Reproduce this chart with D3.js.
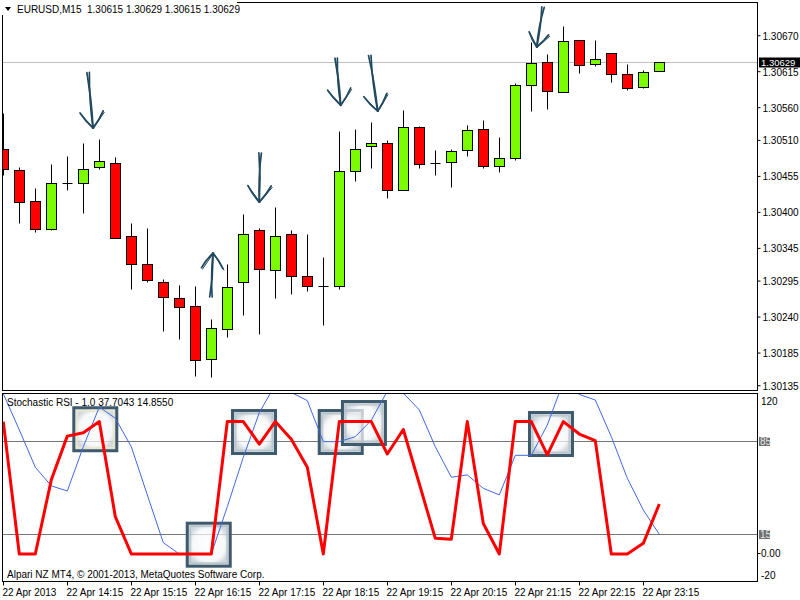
<!DOCTYPE html>
<html><head><meta charset="utf-8">
<script src="https://cdn.jsdelivr.net/npm/d3@7"></script>
<style>
body{margin:0;background:#fff}
svg{display:block}
text{font-family:"Liberation Sans",Arial,sans-serif;font-size:10px;fill:#000;white-space:pre}
</style>
</head><body>
<svg id="c" width="800" height="600"></svg>
<script>
// ---------------- data ----------------
const symbol = "EURUSD,M15";
const times = ["13:15","13:30","13:45","14:00","14:15","14:30","14:45","15:00","15:15","15:30","15:45","16:00","16:15","16:30","16:45","17:00","17:15","17:30","17:45","18:00","18:15","18:30","18:45","19:00","19:15","19:30","19:45","20:00","20:15","20:30","20:45","21:00","21:15","21:30","21:45","22:00","22:15","22:30","22:45","23:00","23:15","23:30"];
const open  = [1.30495,1.30463,1.30416,1.30373,1.30443,1.30443,1.30468,1.30474,1.30362,1.30320,1.30292,1.30268,1.30255,1.30174,1.30220,1.30292,1.30371,1.30310,1.30365,1.30301,1.30286,1.30286,1.30462,1.30500,1.30505,1.30433,1.30529,1.30474,1.30475,1.30494,1.30526,1.30469,1.30482,1.30593,1.30628,1.30582,1.30662,1.30625,1.30642,1.30610,1.30590,1.30615];
const high  = [1.30551,1.30468,1.30436,1.30473,1.30485,1.30505,1.30510,1.30483,1.30382,1.30375,1.30297,1.30288,1.30286,1.30235,1.30319,1.30396,1.30375,1.30407,1.30371,1.30366,1.30330,1.30523,1.30526,1.30537,1.30509,1.30555,1.30531,1.30494,1.30496,1.30532,1.30540,1.30513,1.30596,1.30659,1.30641,1.30684,1.30662,1.30662,1.30642,1.30626,1.30616,1.30629];
const low   = [1.30456,1.30382,1.30368,1.30371,1.30432,1.30397,1.30465,1.30359,1.30281,1.30292,1.30217,1.30205,1.30148,1.30147,1.30208,1.30242,1.30212,1.30267,1.30273,1.30278,1.30227,1.30282,1.30446,1.30467,1.30421,1.30433,1.30467,1.30456,1.30437,1.30484,1.30467,1.30460,1.30479,1.30553,1.30557,1.30582,1.30612,1.30622,1.30597,1.30585,1.30588,1.30615];
const close = [1.30465,1.30414,1.30373,1.30443,1.30443,1.30465,1.30477,1.30359,1.30320,1.30295,1.30269,1.30254,1.30173,1.30221,1.30285,1.30365,1.30312,1.30362,1.30301,1.30286,1.30286,1.30462,1.30496,1.30505,1.30433,1.30529,1.30472,1.30474,1.30492,1.30524,1.30469,1.30482,1.30593,1.30627,1.30584,1.30660,1.30624,1.30633,1.30610,1.30588,1.30613,1.30629];
const stochK = [100,0,0,56,89,91.6,100,28.2,0,0,0,0,0,0,100,100,83,100,86.6,65.5,0,100,100,100,75.5,94,53,11.8,11.1,100,23,0,100,100,74.8,100,90.6,85.6,0,0,8,37.7043];
const stochD = [121,93.7,65.5,51.4,47.6,81,111,102.5,81,44.6,8.5,0,0,0,35.7,73,106.7,128,122,115.8,84.8,84.8,88.6,101,123,121.5,108.8,81,58,59.7,49.6,44.6,74.5,74.5,97.4,130,120.5,116.3,88.6,57.2,33.2,14.855];
const priceTicks = [1.30670,1.30615,1.30560,1.30510,1.30455,1.30400,1.30345,1.30295,1.30240,1.30185,1.30135];
const timeTicks = ["13:15","14:15","15:15","16:15","17:15","18:15","19:15","20:15","21:15","22:15","23:15"];
const timeTickLabels = ["22 Apr 2013","22 Apr 14:15","22 Apr 15:15","22 Apr 16:15","22 Apr 17:15","22 Apr 18:15","22 Apr 19:15","22 Apr 20:15","22 Apr 21:15","22 Apr 22:15","22 Apr 23:15"];
const levels = [85, 15];
const indLabels = [120, 0, -20];
// hand-drawn annotations (arrows on price chart, squares on indicator)
const arrowTailIdx = [5.30, 12.98, 16.05, 20.80, 22.90, 33.73];
const arrowTailPx  = [1.30613, 1.30270, 1.30490, 1.30635, 1.30639, 1.30713];
const arrowTipIdx  = [5.61, 13.10, 16.00, 21.09, 23.40, 33.34];
const arrowTipPx   = [1.30528, 1.30337, 1.30415, 1.30563, 1.30554, 1.30652];
const boxIdx = [5.75, 15.67, 12.84, 21.09, 22.54, 34.23];
const boxVal = [94.2, 92.1, 7.0, 92.1, 98.9, 90.6];

// ---------------- layout ----------------
const L = 2.5, R = 757.5, mainTop = 2.5, mainBot = 390.5, indTop = 393.5, indBot = 581.5;
const svg = d3.select("#c");
const idx = t => times.indexOf(t);
const x = d3.scaleLinear().domain([0, times.length - 1]).range([3.3, 3.3 + 16 * (times.length - 1)]);
const y = d3.scaleLinear().domain([1.30127, 1.30720]).range([mainBot, mainTop]);
const yi = d3.scaleLinear().domain([-20.8, 121.2]).range([indBot, indTop]);
const px = v => Math.floor(v) + 0.5;

const defs = svg.append("defs");
defs.append("clipPath").attr("id","cm").append("rect").attr("x",L).attr("y",mainTop).attr("width",R-L).attr("height",mainBot-mainTop);
defs.append("clipPath").attr("id","ci").append("rect").attr("x",L).attr("y",indTop).attr("width",R-L).attr("height",indBot-indTop);
const rg = defs.append("radialGradient").attr("id","glass");
rg.append("stop").attr("offset","0%").attr("stop-color","#ffffff").attr("stop-opacity",0.75);
rg.append("stop").attr("offset","75%").attr("stop-color","#f4f6f7").attr("stop-opacity",0.7);
rg.append("stop").attr("offset","100%").attr("stop-color","#c9d2d8").attr("stop-opacity",0.85);

// ---------------- main panel ----------------
const gm = svg.append("g").attr("clip-path","url(#cm)");
const last = times.length - 1;
gm.append("line").attr("x1",L).attr("x2",R).attr("y1",px(y(close[last]))).attr("y2",px(y(close[last])))
  .attr("stroke","#c0c0c0");

const candles = gm.append("g");
times.forEach((t, i) => {
  const cx = px(x(i));
  candles.append("line").attr("x1",cx).attr("x2",cx).attr("y1",px(y(high[i]))).attr("y2",px(y(low[i])))
    .attr("stroke","#000");
  const top = px(y(Math.max(open[i], close[i]))), bot = px(y(Math.min(open[i], close[i])));
  if (bot - top < 1) {
    candles.append("line").attr("x1",cx-5).attr("x2",cx+5).attr("y1",top).attr("y2",top).attr("stroke","#000");
  } else {
    candles.append("rect").attr("x",cx-5).attr("y",top).attr("width",10).attr("height",bot-top)
      .attr("fill", close[i] >= open[i] ? "#7cfc00" : "#ff0000").attr("stroke","#000");
  }
});

// arrows
const ag = gm.append("g").attr("fill","none").attr("stroke","#21495f").attr("stroke-linecap","round").attr("stroke-linejoin","round");
arrowTipIdx.forEach((ti, k) => {
  const tail = [x(arrowTailIdx[k]), y(arrowTailPx[k])];
  const tip = [x(ti), y(arrowTipPx[k])];
  const dx = tip[0]-tail[0], dy = tip[1]-tail[1], len = Math.hypot(dx, dy);
  const ux = dx/len, uy = dy/len, nx = -uy, ny = ux;
  const hl = Math.min(20, len*0.42);
  const br = a => [tip[0] - (ux*Math.cos(a) - uy*Math.sin(a))*hl, tip[1] - (ux*Math.sin(a) + uy*Math.cos(a))*hl];
  const mid = [(tail[0]+tip[0])/2, (tail[1]+tip[1])/2];
  [[-1.3, 1.5], [1.2, -1.2]].forEach(([o, w]) => {
    ag.append("path").attr("stroke-width",1.7)
      .attr("d", `M${tail[0]+nx*o},${tail[1]+ny*o} Q${mid[0]+nx*w},${mid[1]+ny*w} ${tip[0]},${tip[1]}`);
  });
  [0.62, -0.62].forEach((a, j) => {
    const b = br(a);
    const c = [(b[0]+tip[0])/2 + nx*(j?1.5:-1.5), (b[1]+tip[1])/2 + ny*(j?1.5:-1.5)];
    ag.append("path").attr("stroke-width",1.8).attr("d", `M${b[0]},${b[1]} Q${c[0]},${c[1]} ${tip[0]},${tip[1]}`);
    ag.append("path").attr("stroke-width",1).attr("d", `M${b[0]+1},${b[1]+1.5} L${tip[0]+0.5},${tip[1]}`);
  });
});

// frame main
svg.append("rect").attr("x",L).attr("y",mainTop).attr("width",R-L).attr("height",mainBot-mainTop)
  .attr("fill","none").attr("stroke","#000");

// price axis
const ya = svg.append("g").attr("transform",`translate(${R},0)`)
  .call(d3.axisRight(y).tickValues(priceTicks).tickSize(3).tickPadding(2).tickFormat(d3.format(".5f")));
ya.select(".domain").remove();
ya.selectAll("line").attr("stroke","#000");
ya.selectAll("text").attr("dy","0.4em").style("font-family","'Liberation Sans',Arial,sans-serif").style("font-size","10px").attr("fill","#000");

// current price label
const cy = px(y(close[last]));
svg.append("rect").attr("x",759).attr("y",cy-5).attr("width",41).attr("height",10).attr("fill","#000");
svg.append("text").attr("x",761).attr("y",cy+3.5).style("fill","#fff").style("font-size","9.5px").text(d3.format(".5f")(close[last]));

// header
svg.append("rect").attr("x",1).attr("y",0).attr("width",236).attr("height",15).attr("fill","#fff");
svg.append("path").attr("d","M5,7 L11,7 L8,11 Z").attr("fill","#000");
const f5 = d3.format(".5f");
svg.append("text").attr("x",17).attr("y",13)
  .text(`${symbol}  ${f5(open[last])} ${f5(high[last])} ${f5(low[last])} ${f5(close[last])}`);

// ---------------- indicator panel ----------------
const gi = svg.append("g").attr("clip-path","url(#ci)");
levels.forEach(v => {
  gi.append("line").attr("x1",L).attr("x2",R).attr("y1",px(yi(v))).attr("y2",px(yi(v))).attr("stroke","#777");
});
boxIdx.forEach((bi, k) => {
  const cx = x(bi), cyb = yi(boxVal[k]), s = 43;
  gi.append("rect").attr("x",cx-s/2).attr("y",cyb-s/2).attr("width",s).attr("height",s)
    .attr("fill","url(#glass)").attr("stroke","#3e5a6c").attr("stroke-width",3);
  gi.append("rect").attr("x",cx-s/2+3).attr("y",cyb-s/2+3).attr("width",s-6).attr("height",s-6)
    .attr("fill","none").attr("stroke", k === 0 ? "#efe9c8" : "#b4c1c9").attr("stroke-width",2).attr("opacity",0.8);
});
const line = d3.line().x((d,i) => x(i)).y(d => yi(d));
gi.append("path").attr("d", line(stochD)).attr("fill","none").attr("stroke","#4169e1").attr("stroke-width",1);
gi.append("path").attr("d", line(stochK)).attr("fill","none").attr("stroke","#ff0000").attr("stroke-width",3).attr("stroke-linejoin","round");

svg.append("rect").attr("x",L).attr("y",indTop).attr("width",R-L).attr("height",indBot-indTop)
  .attr("fill","none").attr("stroke","#000");

const f4 = d3.format(".4f");
svg.append("text").attr("x",7).attr("y",406)
  .text(`Stochastic RSI - 1.0 ${f4(stochK[last])} ${f4(stochD[last])}`);
svg.append("text").attr("x",7).attr("y",578).text("Alpari NZ MT4, © 2001-2013, MetaQuotes Software Corp.");

// indicator axis labels
const ia = svg.append("g");
indLabels.forEach(v => {
  let ty = yi(v);
  if (v === 120) ty = 401; if (v === -20) ty = 575;
  if (v === 0) ia.append("line").attr("x1",R).attr("x2",R+3).attr("y1",px(yi(v))).attr("y2",px(yi(v))).attr("stroke","#000");
  ia.append("text").attr("x",761).attr("y",ty+3.5).text(v === 0 ? "0.00" : String(v));
});
levels.forEach(v => {
  const ly = px(yi(v));
  ia.append("rect").attr("x",759).attr("y",ly-4.5).attr("width",11).attr("height",9).attr("fill","#6e6e6e");
  ia.append("text").attr("x",760).attr("y",ly+3.5).style("fill","#e8e8e8").text(String(v));
});

// time axis
const xa = svg.append("g").attr("transform",`translate(0,${indBot})`)
  .call(d3.axisBottom(x).tickValues(timeTicks.map(idx)).tickSize(4).tickPadding(3)
    .tickFormat((d,i) => timeTickLabels[i]));
xa.select(".domain").remove();
xa.selectAll(".tick").attr("transform", d => `translate(${px(x(d))},0)`);
xa.selectAll("line").attr("stroke","#000");
xa.selectAll("text").attr("text-anchor","start").attr("x",-1)
  .style("font-family","'Liberation Sans',Arial,sans-serif").style("font-size","10px").attr("fill","#000");
</script>
</body></html>
